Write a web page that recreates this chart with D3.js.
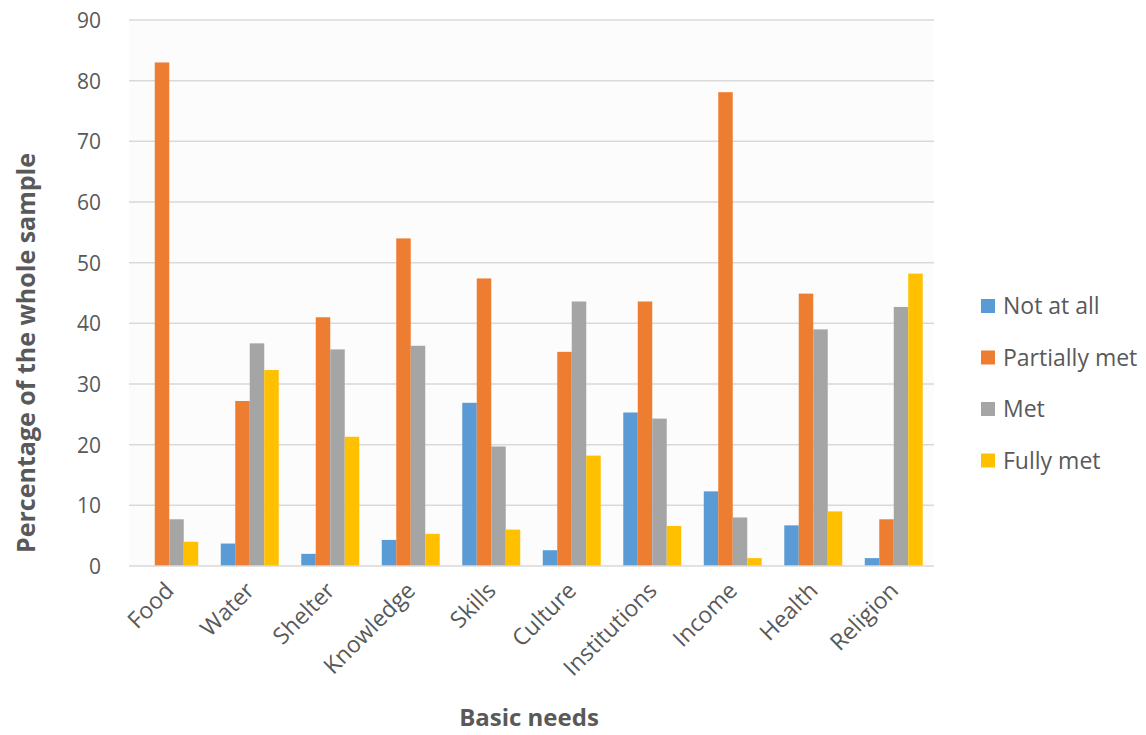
<!DOCTYPE html>
<html>
<head>
<meta charset="utf-8">
<script src="https://cdn.jsdelivr.net/npm/d3@7"></script>
<style>
  html, body { margin: 0; padding: 0; background: #ffffff; }
  svg { display: block; font-family: "Open Sans", "Noto Sans", sans-serif; }
</style>
</head>
<body>
<svg id="chart" width="1146" height="735"></svg>
<script>
// Basic needs categories
const categories = ["Food", "Water", "Shelter", "Knowledge", "Skills", "Culture", "Institutions", "Income", "Health", "Religion"];

// Series names and colours
const seriesNames = ["Not at all", "Partially met", "Met", "Fully met"];
const seriesColors = ["#5b9bd5", "#ed7d31", "#a5a5a5", "#ffc000"];

// Percentage of the whole sample, per series
const notAtAll     = [0,    3.7,  2.0,  4.3,  26.9, 2.6,  25.3, 12.3, 6.7,  1.3];
const partiallyMet = [83.0, 27.2, 41.0, 54.0, 47.4, 35.3, 43.6, 78.1, 44.9, 7.7];
const met          = [7.7,  36.7, 35.7, 36.3, 19.7, 43.6, 24.3, 8.0,  39.0, 42.7];
const fullyMet     = [4.0,  32.3, 21.3, 5.3,  6.0,  18.2, 6.6,  1.3,  9.0,  48.2];

const yTicks = [0, 10, 20, 30, 40, 50, 60, 70, 80, 90];

const seriesValues = [notAtAll, partiallyMet, met, fullyMet];

const svg = d3.select("#chart");
const plotLeft = 129, plotRight = 934, plotTop = 20, plotBottom = 566;
const textColor = "#595959";

const x = d3.scaleBand().domain(categories).range([plotLeft, plotRight]).paddingInner(0.28).paddingOuter(0.14);
const xs = d3.scaleBand().domain(seriesNames).range([0, x.bandwidth()]);
const y = d3.scaleLinear().domain([0, 90]).range([plotBottom, plotTop]);

// Plot background
svg.append("rect").attr("x", plotLeft).attr("y", plotTop)
  .attr("width", plotRight - plotLeft).attr("height", plotBottom - plotTop)
  .attr("fill", "#fcfcfc");

// Horizontal gridlines
svg.append("g").selectAll("line").data(yTicks.filter(d => d > 0)).join("line")
  .attr("x1", plotLeft).attr("x2", plotRight)
  .attr("y1", d => y(d)).attr("y2", d => y(d))
  .attr("stroke", "#d9d9d9").attr("stroke-width", 1.5);

// Bars
const groups = svg.append("g").selectAll("g").data(categories).join("g")
  .attr("transform", d => `translate(${x(d)},0)`);

groups.selectAll("rect")
  .data((c, i) => seriesNames.map((s, k) => ({ s, k, v: seriesValues[k][i] })))
  .join("rect")
  .attr("x", d => xs(d.s))
  .attr("width", xs.bandwidth())
  .attr("y", d => y(d.v))
  .attr("height", d => y(0) - y(d.v))
  .attr("fill", d => seriesColors[d.k]);

// Baseline
svg.append("line").attr("x1", plotLeft).attr("x2", plotRight).attr("y1", y(0)).attr("y2", y(0))
  .attr("stroke", "#d9d9d9").attr("stroke-width", 1.5);

// Y axis tick labels
const yAxis = d3.axisLeft(y).tickValues(yTicks).tickSize(0).tickPadding(0);
const yg = svg.append("g").attr("transform", `translate(${plotLeft - 28},0)`).call(yAxis);
yg.select(".domain").remove();
yg.selectAll("text").attr("font-size", 21).attr("fill", textColor)
  .attr("font-family", "'Open Sans', sans-serif").attr("dy", "0.35em");

// X axis category labels, rotated
const xAxis = d3.axisBottom(x).tickSize(0).tickPadding(0);
const xg = svg.append("g").attr("transform", `translate(0,${plotBottom})`).call(xAxis);
xg.select(".domain").remove();
xg.selectAll("text")
  .attr("font-size", 23).attr("fill", textColor)
  .attr("font-family", "'Open Sans', sans-serif")
  .attr("text-anchor", "end")
  .attr("dy", null).attr("y", 0)
  .attr("transform", "translate(6,26) rotate(-45)");

// Axis titles
svg.append("text")
  .attr("transform", "translate(35,353) rotate(-90)")
  .attr("text-anchor", "middle")
  .attr("font-size", 25).attr("font-weight", "bold").attr("fill", textColor)
  .text("Percentage of the whole sample");

svg.append("text")
  .attr("x", 529).attr("y", 726)
  .attr("text-anchor", "middle")
  .attr("font-size", 24).attr("font-weight", "bold").attr("fill", textColor)
  .text("Basic needs");

// Legend
const legend = svg.append("g").attr("transform", "translate(981,299)");
const items = legend.selectAll("g").data(seriesNames).join("g")
  .attr("transform", (d, i) => `translate(0,${i * 51.5})`);
items.append("rect").attr("width", 14).attr("height", 14)
  .attr("fill", (d, i) => seriesColors[i]);
items.append("text").attr("x", 22).attr("y", 7).attr("dy", "0.35em")
  .attr("font-size", 23).attr("fill", textColor)
  .text(d => d);
</script>
</body>
</html>
